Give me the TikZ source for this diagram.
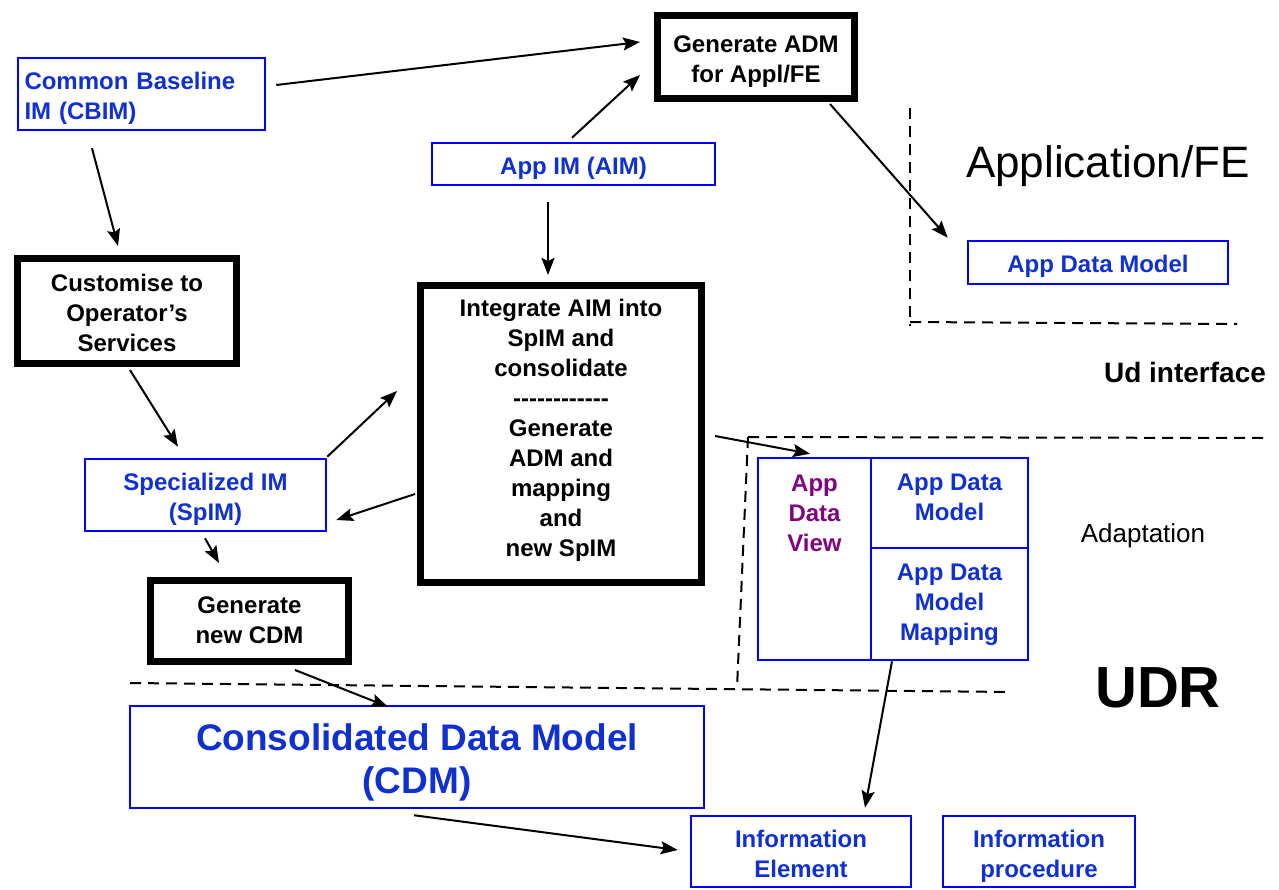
\documentclass[tikz,border=0pt]{standalone}
\usepackage{fontspec}
\setmainfont{Liberation Sans}[Ligatures=TeXOff]
\usetikzlibrary{arrows.meta,calc}
\definecolor{textblue}{RGB}{16,48,208}
\definecolor{boxblue}{RGB}{0,0,255}
\definecolor{viewpurple}{RGB}{128,0,128}
\newcommand\fsz[2]{\fontsize{#1}{#2}\selectfont}
% text block with forced first-line height (#1) and last-line depth (#2)
\newcommand\tb[3]{\rule{0pt}{#1pt}#3\rule[-#2pt]{0pt}{#2pt}}
\tikzset{
  bluebox/.style={draw=boxblue,line width=2.5pt,rectangle,inner sep=0pt,align=center,text=textblue,font=\fsz{24}{30}\bfseries},
  thickbox/.style={draw=black,line width=7pt,rectangle,inner sep=0pt,align=center,text=black,font=\fsz{24}{30}\bfseries},
  arr/.style={line width=2pt,-{Stealth[length=17pt,width=13pt,inset=3pt]}},
  dashline/.style={line width=2pt,dash pattern=on 11pt off 7pt},
  plain/.style={inner sep=0pt,align=center}
}
\begin{document}
\begin{tikzpicture}[x=1pt,y=-1pt]
\useasboundingbox (0,0) rectangle (1279,890);
\fill[white] (0,0) rectangle (1279,890);

% boxes
\node[bluebox,minimum width=247,minimum height=72,text width=234,align=left] (cbim) at (141.5,94) {\tb{27}{6}{Common Baseline\\IM (CBIM)}};
\node[thickbox,minimum width=197,minimum height=83] (gadm) at (756,57) {\tb{27}{6}{Generate ADM\\for Appl/FE}};
\node[bluebox,minimum width=283,minimum height=42] (aim) at (573.5,164) {\tb{27}{6}{App IM (AIM)}};
\node[bluebox,minimum width=260,minimum height=43] (appdm) at (1098,262.5) {\tb{27}{6}{App Data Model}};
\node[thickbox,minimum width=219,minimum height=105] (cust) at (127,311) {\tb{27}{6}{Customise to\\Operator’s\\Services}};
\node[thickbox,minimum width=281,minimum height=297] (integ) at (561,434) {};
\node[plain,font=\fsz{24}{30}\bfseries] (integt) at (561,426) {\tb{27}{6}{Integrate AIM into\\SpIM and\\consolidate\\------------\\Generate\\ADM and\\mapping\\and\\new SpIM}};
\node[bluebox,minimum width=241,minimum height=72] (spim) at (205.5,495) {\tb{27}{6}{Specialized IM\\(SpIM)}};
\node[thickbox,minimum width=198,minimum height=81] (gcdm) at (249.5,621) {\tb{22}{7}{Generate\\new CDM}};
\node[bluebox,minimum width=574,minimum height=102,font=\fsz{37}{43}\bfseries] (cdm) at (417,757) {\tb{38.5}{9}{Consolidated Data Model\\(CDM)}};
\node[bluebox,minimum width=220,minimum height=71] (ie) at (801,851.5) {\tb{27}{6}{Information\\Element}};
\node[bluebox,minimum width=192,minimum height=71] (ip) at (1039,851.5) {\tb{27}{6}{Information\\procedure}};

% adaptation composite box
\node[bluebox,minimum width=113,minimum height=202] (adv) at (814.5,559) {};
\node[plain,text=viewpurple,font=\fsz{24}{30}\bfseries] (advt) at (814.5,510.5) {\tb{27}{6}{App\\Data\\View}};
\node[bluebox,minimum width=157,minimum height=90] (adm2) at (949.5,503) {\tb{20}{15}{App Data\\Model}};
\node[bluebox,minimum width=157,minimum height=112] (admm) at (949.5,604) {\tb{22}{9}{App Data\\Model\\Mapping}};

% free texts
\node[plain,font=\fsz{44}{50}] (appfe) at (1108,166) {Application/FE};
\node[plain,font=\fsz{28}{32}\bfseries] (ud) at (1185,372) {Ud interface};
\node[plain,font=\fsz{26}{30}] (adapt) at (1143,536) {Adaptation};
\node[plain,font=\fsz{58}{64}\bfseries] (udr) at (1158,688) {UDR};

% dashed boundaries
\draw[dashline] (910,108) -- (910,326);
\draw[dashline] (910,322) -- (1237,324);
\draw[dashline] (748,437) -- (1265,438);
\draw[dashline] (748,437) -- (737,688);
\draw[dashline] (130,683) -- (1010,692);

% arrows
\draw[arr] ([shift={(10,-9)}]cbim.east) -- ([shift={(-14,-15)}]gadm.west);
\draw[arr] ([shift={(-1.5,-4)}]aim.north) -- ([shift={(-14,18)}]gadm.west);
\draw[arr] ([shift={(-49.5,17)}]cbim.south) -- ([shift={(-9,-9)}]cust.north);
\draw[arr] ([shift={(-25.5,16)}]aim.south) -- ([shift={(-13,-7)}]integ.north);
\draw[arr] ([shift={(74,2)}]gadm.south) -- ([shift={(-19,-2)}]appdm.north west);
\draw[arr] ([shift={(3,3)}]cust.south) -- ([shift={(-27.5,-11)}]spim.north);
\draw[arr] ([shift={(0,-1)}]spim.north east) -- ([shift={(-20,-43)}]integ.west);
\draw[arr] ([shift={(-2,60)}]integ.west) -- ([shift={(9,25)}]spim.east);
\draw[arr] ([shift={(10,2)}]integ.east) -- ([shift={(-4.5,-3)}]adv.north);
\draw[arr] ([shift={(-0.5,6)}]spim.south) -- ([shift={(-30.5,-14)}]gcdm.north);
\draw[arr] ([shift={(45.5,5)}]gcdm.south) -- ([shift={(-29,2)}]cdm.north);
\draw[arr] ([shift={(-57.5,0)}]admm.south) -- ([shift={(64,-7)}]ie.north);
\draw[arr] ([shift={(-3,6)}]cdm.south) -- ([shift={(-12,-1.5)}]ie.west);
\end{tikzpicture}
\end{document}
